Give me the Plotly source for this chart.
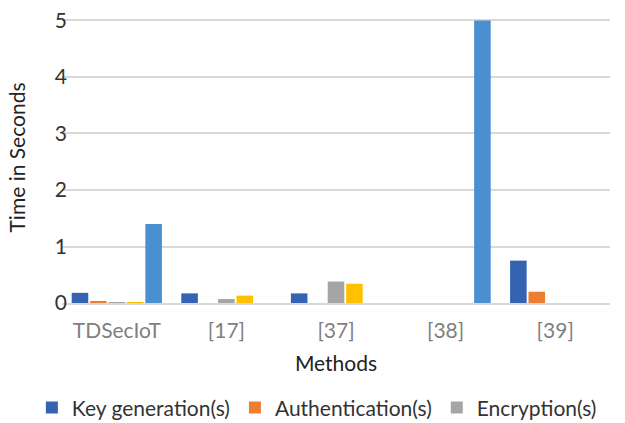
import plotly.graph_objects as go

categories = ["TDSecIoT", "[17]", "[37]", "[38]", "[39]"]
key_generation = [0.18, 0.17, 0.17, 0.0, 0.75]
authentication = [0.02, 0.0, 0.0, 0.0, 0.20]
encryption = [0.01, 0.07, 0.38, 0.0, 0.0]
decryption = [0.01, 0.13, 0.34, 0.0, 0.0]
total = [1.40, 0.0, 0.0, 5.0, 0.0]
y_ticks = [0, 1, 2, 3, 4, 5]

series = [
    ("Key generation(s)", key_generation, "#3463b2", True),
    ("Authentication(s)", authentication, "#ed7d31", True),
    ("Encryption(s)", encryption, "#a5a5a5", True),
    ("Decryption(s)", decryption, "#ffc000", False),
    ("Total(s)", total, "#4a8fd0", False),
]

fig = go.Figure()
for name, vals, col, show in series:
    fig.add_trace(go.Bar(
        x=categories, y=vals, name=name, showlegend=show,
        marker=dict(color=col, line=dict(width=0)),
    ))

fig.update_layout(
    width=625, height=423,
    margin=dict(l=62, r=15, t=12, b=120, autoexpand=False),
    paper_bgcolor="white", plot_bgcolor="white",
    barmode="group", bargap=0.16, bargroupgap=0.1,
    font=dict(family="Lato, sans-serif", size=21, color="#333333"),
    xaxis=dict(
        title=dict(text="Methods", font=dict(size=21, color="#222222"), standoff=15),
        tickfont=dict(size=21, color="#7f7f7f"),
        ticklabelstandoff=8, automargin=True,
        showline=True, linecolor="#d9d9d9", linewidth=2,
        ticks="", showgrid=False,
    ),
    yaxis=dict(
        title=dict(text="Time in Seconds", font=dict(size=21, color="#222222"), standoff=23),
        range=[0, 5.15], tickvals=y_ticks,
        tickfont=dict(size=21, color="#333333"),
        ticklabelposition="outside", ticklabelstandoff=-6, automargin=True,
        showgrid=True, gridcolor="#d9d9d9", gridwidth=2,
        zeroline=False, ticks="",
    ),
    legend=dict(
        orientation="h", x=-0.055, xanchor="left",
        y=-0.36, yanchor="middle",
        font=dict(size=21, color="#333333"), itemwidth=30,
        traceorder="normal", tracegroupgap=0, itemsizing="constant",
    ),
)

fig.write_html("out.html")
